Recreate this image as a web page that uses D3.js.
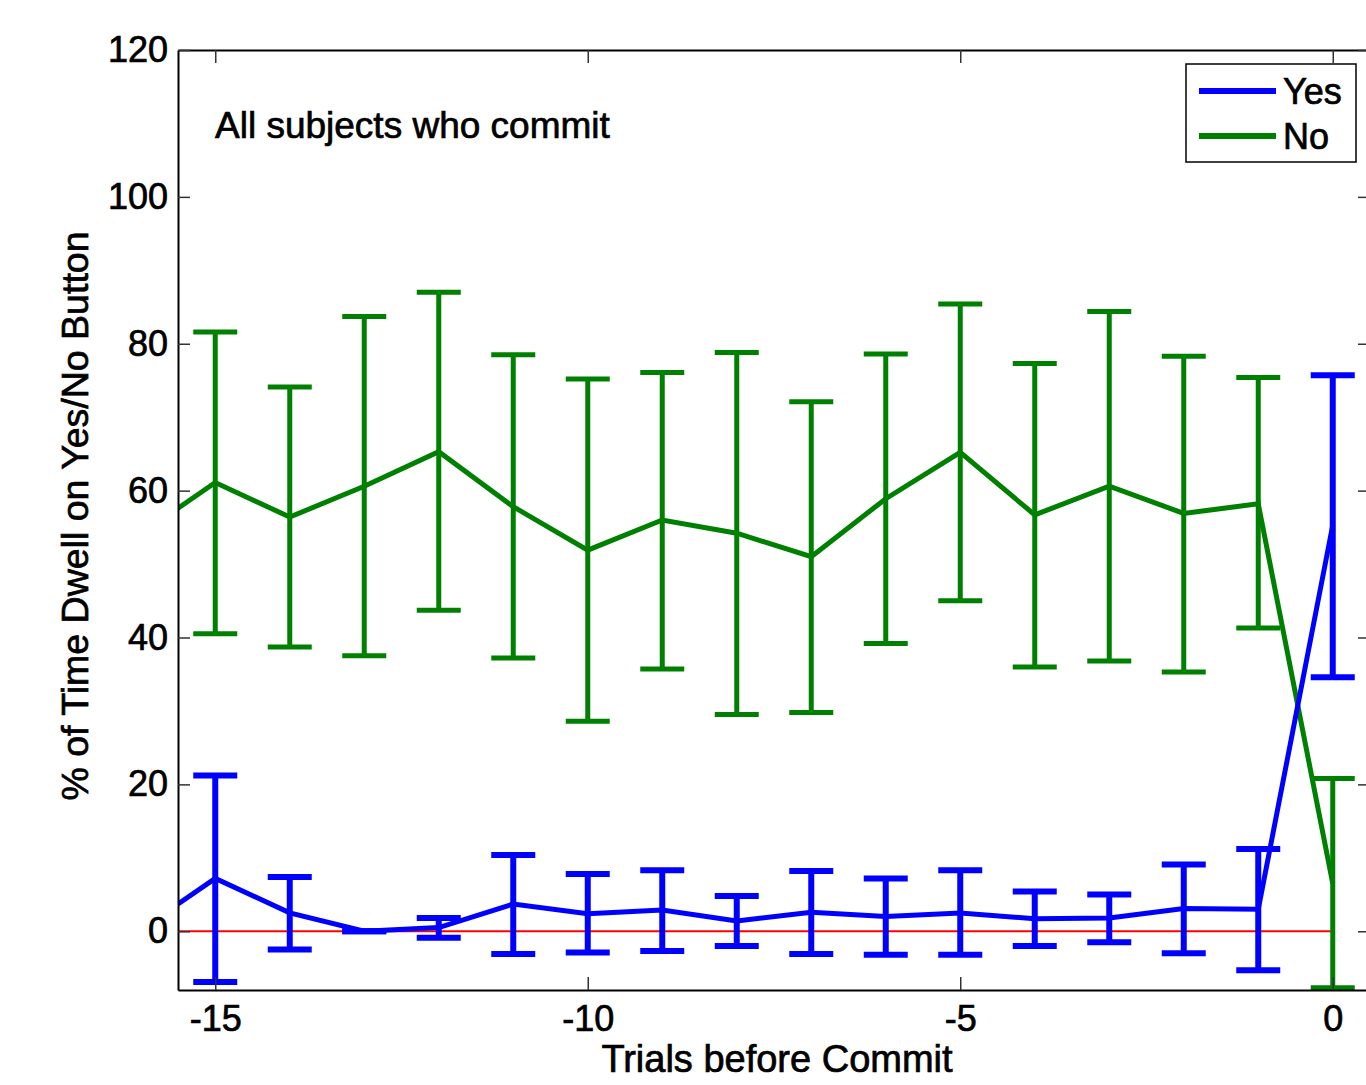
<!DOCTYPE html>
<html>
<head>
<meta charset="utf-8">
<script src="https://cdn.jsdelivr.net/npm/d3@7"></script>
<style>
  body { margin: 0; background: #fff; }
  svg { display: block; font-family: 'Liberation Sans', Arial, sans-serif; }
  svg text { stroke: #000; stroke-width: 0.7px; }
</style>
</head>
<body>
<div id="chart"></div>
<script>
// trials before commit (x = -16 lies just outside the axis and is clipped)
let trials = [-16, -15, -14, -13, -12, -11, -10, -9, -8, -7, -6, -5, -4, -3, -2, -1, 0]

// % of time dwelling on the Yes button
let yesMean = [0.2, 7.2, 2.5, 0.0, 0.5, 3.7, 2.4, 2.9, 1.4, 2.6, 2.0, 2.5, 1.7, 1.8, 3.1, 3.0, 55.3]
let yesHigh = [null, 21.2, 7.4, 0.0, 1.8, 10.4, 7.8, 8.3, 4.8, 8.2, 7.2, 8.3, 5.4, 5.0, 9.1, 11.2, 75.7]
let yesLow = [null, -6.9, -2.5, 0.0, -0.9, -3.1, -2.9, -2.7, -2.0, -3.1, -3.2, -3.2, -2.0, -1.5, -3.0, -5.3, 34.6]

// % of time dwelling on the No button
let noMean = [54.1, 61.1, 56.4, 60.6, 65.3, 57.8, 51.9, 56.0, 54.2, 51.0, 58.9, 65.2, 56.7, 60.6, 56.9, 58.2, 6.5]
let noHigh = [null, 81.6, 74.1, 83.7, 87.0, 78.5, 75.2, 76.1, 78.8, 72.1, 78.6, 85.4, 77.3, 84.4, 78.3, 75.4, 20.8]
let noLow = [null, 40.5, 38.7, 37.5, 43.7, 37.2, 28.6, 35.7, 29.5, 29.8, 39.2, 45.0, 36.0, 36.8, 35.3, 41.3, -7.7]

let xTicks = [-15, -10, -5, 0]
let yTicks = [0, 20, 40, 60, 80, 100, 120]

let width = 1366
let height = 1085
let margin = { top: 50, right: -4, bottom: 95, left: 178 }
let innerW = width - margin.left - margin.right
let innerH = height - margin.top - margin.bottom

let svg = d3.select('#chart')
  .append('svg')
  .attr('width', width)
  .attr('height', height)

let x = d3.scaleLinear().domain([-15.5, 0.5]).range([margin.left, margin.left + innerW])
let y = d3.scaleLinear().domain([-8, 120]).range([margin.top + innerH, margin.top])

svg.append('clipPath')
  .attr('id', 'plot-clip')
  .append('rect')
  .attr('x', margin.left)
  .attr('y', margin.top)
  .attr('width', innerW)
  .attr('height', innerH)

let plot = svg.append('g').attr('clip-path', 'url(#plot-clip)')

// zero reference line
plot.append('line')
  .attr('x1', x(-15.5)).attr('x2', x(0))
  .attr('y1', y(0)).attr('y2', y(0))
  .attr('stroke', '#ff0000')
  .attr('stroke-width', 2)

function rows(mean, high, low) {
  return trials.map(function(t, i) {
    return { t: t, mean: mean[i], high: high[i], low: low[i] }
  })
}

let series = [
  { name: 'Yes', color: '#0000ff', bar: 6, data: rows(yesMean, yesHigh, yesLow) },
  { name: 'No', color: '#008000', bar: 5, data: rows(noMean, noHigh, noLow) }
]

let line = d3.line()
  .x(function(d) { return x(d.t) })
  .y(function(d) { return y(d.mean) })

let cap = 22

series.slice().reverse().forEach(function(s) {
  let g = plot.append('g')
  let bars = s.data.filter(function(d) { return d.high !== null })

  g.selectAll('.stem')
    .data(bars)
    .enter()
    .append('line')
    .attr('x1', function(d) { return x(d.t) })
    .attr('x2', function(d) { return x(d.t) })
    .attr('y1', function(d) { return y(d.low) })
    .attr('y2', function(d) { return y(d.high) })
    .attr('stroke', s.color)
    .attr('stroke-width', s.bar)

  ;['high', 'low'].forEach(function(k) {
    g.selectAll('.cap-' + k)
      .data(bars)
      .enter()
      .append('line')
      .attr('x1', function(d) { return x(d.t) - cap })
      .attr('x2', function(d) { return x(d.t) + cap })
      .attr('y1', function(d) { return y(d[k]) })
      .attr('y2', function(d) { return y(d[k]) })
      .attr('stroke', s.color)
      .attr('stroke-width', s.bar)
  })
})

series.slice().reverse().forEach(function(s) {
  plot.append('path')
    .datum(s.data)
    .attr('fill', 'none')
    .attr('stroke', s.color)
    .attr('stroke-width', 5)
    .attr('stroke-linejoin', 'miter')
    .attr('d', line)
})

// axes box with inward ticks on all four sides
function styleAxis(g) {
  g.selectAll('.domain').attr('stroke', '#000').attr('stroke-width', 2)
  g.selectAll('.tick line').attr('stroke', '#333').attr('stroke-width', 1.5)
  g.selectAll('text').attr('font-size', 36).attr('fill', '#000')
}

let fmt = function(d) { return String(d) }

svg.append('g')
  .attr('transform', 'translate(0,' + (margin.top + innerH) + ')')
  .call(d3.axisBottom(x).tickValues(xTicks).tickFormat(fmt).tickSizeInner(-13).tickSizeOuter(0).tickPadding(15))
  .call(styleAxis)

svg.append('g')
  .attr('transform', 'translate(0,' + margin.top + ')')
  .call(d3.axisTop(x).tickValues(xTicks).tickFormat('').tickSizeInner(-13).tickSizeOuter(0))
  .call(styleAxis)

svg.append('g')
  .attr('transform', 'translate(' + margin.left + ',0)')
  .call(d3.axisLeft(y).tickValues(yTicks).tickFormat(fmt).tickSizeInner(-12).tickSizeOuter(0).tickPadding(10))
  .call(styleAxis)

svg.append('g')
  .attr('transform', 'translate(' + (margin.left + innerW) + ',0)')
  .call(d3.axisRight(y).tickValues(yTicks).tickFormat('').tickSizeInner(-12).tickSizeOuter(0))
  .call(styleAxis)

svg.selectAll('.tick text').attr('font-family', "'Liberation Sans', Arial, sans-serif")

// labels
svg.append('text')
  .attr('x', 777)
  .attr('y', 1072)
  .attr('text-anchor', 'middle')
  .attr('font-size', 38)
  .text('Trials before Commit')

svg.append('text')
  .attr('transform', 'translate(88,516) rotate(-90)')
  .attr('text-anchor', 'middle')
  .attr('font-size', 37.5)
  .text('% of Time Dwell on Yes/No Button')

svg.append('text')
  .attr('x', 215)
  .attr('y', 138)
  .attr('font-size', 37)
  .text('All subjects who commit')

// legend
let legend = svg.append('g')

legend.append('rect')
  .attr('x', 1186)
  .attr('y', 64)
  .attr('width', 170)
  .attr('height', 98)
  .attr('fill', '#fff')
  .attr('stroke', '#000')
  .attr('stroke-width', 1.5)

let legendRows = [91, 136]

series.forEach(function(s, i) {
  legend.append('line')
    .attr('x1', 1199).attr('x2', 1276)
    .attr('y1', legendRows[i]).attr('y2', legendRows[i])
    .attr('stroke', s.color)
    .attr('stroke-width', 6)

  legend.append('text')
    .attr('x', 1283)
    .attr('y', legendRows[i] + 13)
    .attr('font-size', 36)
    .text(s.name)
})
</script>
</body>
</html>
